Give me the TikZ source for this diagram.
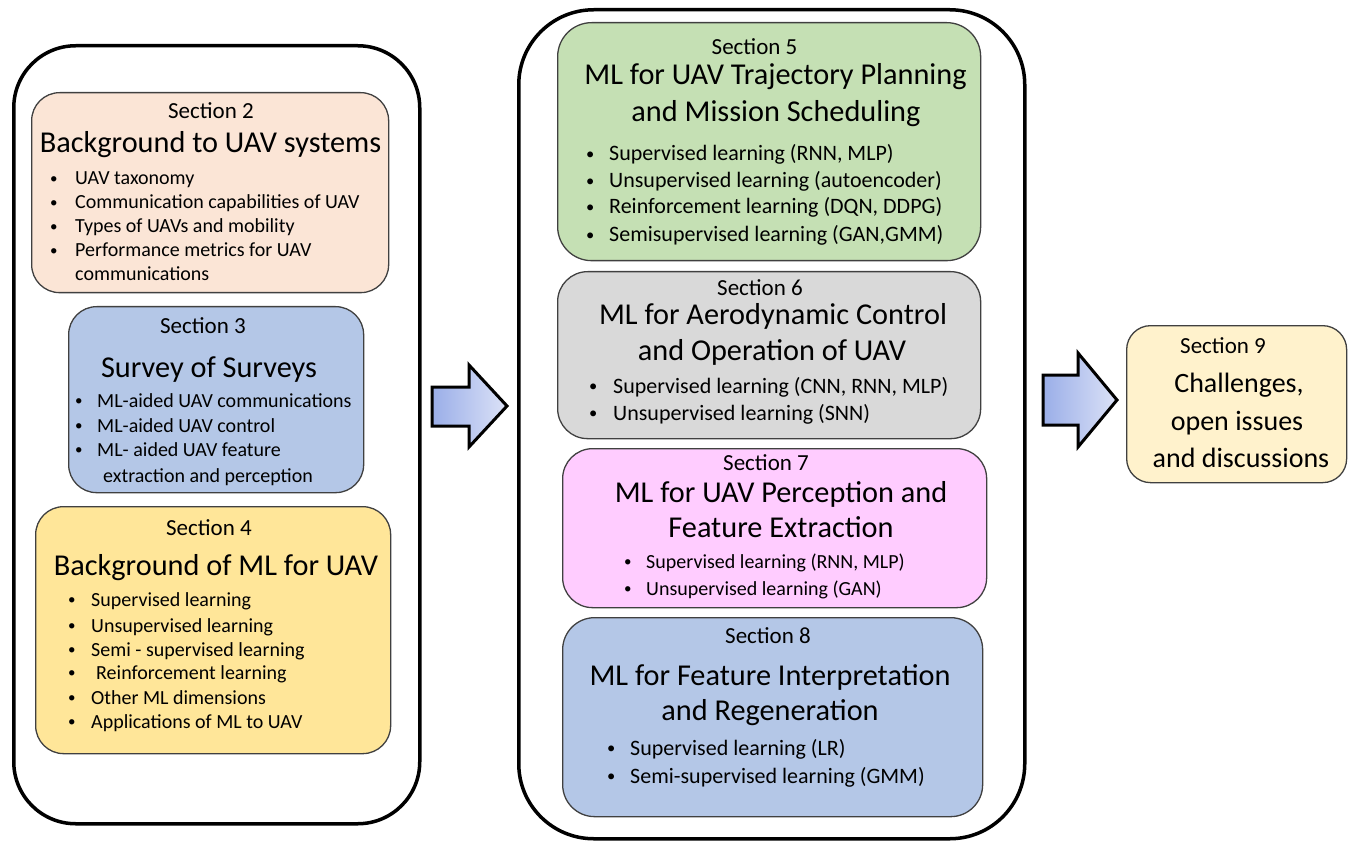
\documentclass[tikz,border=0pt]{standalone}
\usepackage{fontspec}
\setmainfont{Carlito}
\definecolor{cpeach}{HTML}{FBE5D6}
\definecolor{cblue}{HTML}{B4C7E7}
\definecolor{cyel}{HTML}{FFE699}
\definecolor{cgreen}{HTML}{C5E0B4}
\definecolor{cgray}{HTML}{D9D9D9}
\definecolor{cpink}{HTML}{FFCCFF}
\definecolor{clyel}{HTML}{FFF2CC}
\definecolor{boxline}{HTML}{404040}
\definecolor{arrL}{HTML}{9AAEE8}
\definecolor{arrR}{HTML}{DCE2F7}
\newcommand\bitem[2]{\makebox[#1pt][l]{\raisebox{0.06em}{\scalebox{0.75}{\textbullet}}}#2}
\begin{document}
\begin{tikzpicture}[x=1pt,y=-1pt,
  frame/.style={draw=black, line width=3.5pt, inner sep=0, anchor=north west},
  secbox/.style={draw=boxline, line width=1.3pt, rounded corners=28pt, inner sep=0, anchor=north west},
  hd/.style={font=\fontsize{23}{27}\selectfont, anchor=base, inner sep=0},
  tt/.style={font=\fontsize{30.3}{36}\selectfont, anchor=base, inner sep=0},
  tn/.style={font=\fontsize{28}{34}\selectfont, anchor=base, inner sep=0},
  bu/.style={font=\fontsize{20}{24}\selectfont, anchor=base west, inner sep=0},
  bub/.style={font=\fontsize{22}{26}\selectfont, anchor=base west, inner sep=0},
  blockarrow/.style={draw=black, line width=3pt, line join=miter, shading=axis, shading angle=120, left color=arrL, right color=arrR}
]
\useasboundingbox (0,0) rectangle (1349,842);

% outer frames
\node[frame, rounded corners=62pt, minimum width=406pt, minimum height=778pt] (leftframe) at (12,44) {};
\node[frame, rounded corners=75pt, minimum width=506pt, minimum height=829pt] (midframe) at (517,8) {};

% Section 2
\node[secbox, fill=cpeach, minimum width=357pt, minimum height=200pt] (s2) at (31,92) {};
\node[hd] (s2h) at (211,119) {Section 2};
\node[tt] (s2t) at (210.5,153) {Background to UAV systems};
\node[bu] (s2a) at (50,185) {\bitem{25}{UAV taxonomy}};
\node[bu] (s2b) at (50,209) {\bitem{25}{Communication capabilities of UAV}};
\node[bu] (s2c) at (50,233) {\bitem{25}{Types of UAVs and mobility}};
\node[bu] (s2d) at (50,257) {\bitem{25}{Performance metrics for UAV}};
\node[bu] (s2e) at (75,281) {communications};

% Section 3
\node[secbox, fill=cblue, minimum width=295pt, minimum height=186pt] (s3) at (68,306) {};
\node[hd] (s3h) at (203,333) {Section 3};
\node[tt] (s3t) at (209,377) {Survey of Surveys};
\node[bu] (s3a) at (75,407) {\bitem{22}{ML-aided UAV communications}};
\node[bu] (s3b) at (75,432) {\bitem{22}{ML-aided UAV control}};
\node[bu] (s3c) at (75,456) {\bitem{22}{ML- aided UAV feature}};
\node[bu] (s3d) at (103,482) {extraction and perception};

% Section 4
\node[secbox, fill=cyel, minimum width=355pt, minimum height=247pt] (s4) at (35,506) {};
\node[hd] (s4h) at (209,535) {Section 4};
\node[tt] (s4t) at (216,575) {Background of ML for UAV};
\node[bu] (s4a) at (68,606) {\bitem{23}{Supervised learning}};
\node[bu] (s4b) at (68,632) {\bitem{23}{Unsupervised learning}};
\node[bu] (s4c) at (68,656) {\bitem{23}{Semi - supervised learning}};
\node[bu] (s4d) at (68,679) {\bitem{28}{Reinforcement learning}};
\node[bu] (s4e) at (68,704) {\bitem{23}{Other ML dimensions}};
\node[bu] (s4f) at (68,728) {\bitem{23}{Applications of ML to UAV}};

% Section 5
\node[secbox, fill=cgreen, rounded corners=34pt, minimum width=423pt, minimum height=238pt] (s5) at (557,22) {};
\node[hd] (s5h) at (754.5,55) {Section 5};
\node[tt] (s5t1) at (775.5,85) {ML for UAV Trajectory Planning};
\node[tt] (s5t2) at (776,122) {and Mission Scheduling};
\node[bub] (s5a) at (586,161) {\bitem{23}{Supervised learning (RNN, MLP)}};
\node[bub] (s5b) at (586,188) {\bitem{23}{Unsupervised learning (autoencoder)}};
\node[bub] (s5c) at (586,214) {\bitem{23}{Reinforcement learning (DQN, DDPG)}};
\node[bub] (s5d) at (586,242) {\bitem{23}{Semisupervised learning (GAN,GMM)}};

% Section 6
\node[secbox, fill=cgray, rounded corners=30pt, minimum width=423pt, minimum height=167pt] (s6) at (557,271) {};
\node[hd] (s6h) at (760,295) {Section 6};
\node[tt] (s6t1) at (773,324) {ML for Aerodynamic Control};
\node[tt] (s6t2) at (772,360) {and Operation of UAV};
\node[bub] (s6a) at (589,393) {\bitem{24}{Supervised learning (CNN, RNN, MLP)}};
\node[bub] (s6b) at (589,420) {\bitem{24}{Unsupervised learning (SNN)}};

% Section 7
\node[secbox, fill=cpink, rounded corners=30pt, minimum width=424pt, minimum height=159pt] (s7) at (562,448) {};
\node[hd] (s7h) at (766,470) {Section 7};
\node[tt] (s7t1) at (781,502) {ML for UAV Perception and};
\node[tt] (s7t2) at (781,537) {Feature Extraction};
\node[bu] (s7a) at (624,568) {\bitem{22}{Supervised learning (RNN, MLP)}};
\node[bu] (s7b) at (624,595) {\bitem{22}{Unsupervised learning (GAN)}};

% Section 8
\node[secbox, fill=cblue, rounded corners=32pt, minimum width=420pt, minimum height=199pt] (s8) at (562,617) {};
\node[hd] (s8h) at (768,643) {Section 8};
\node[tt] (s8t1) at (770,685) {ML for Feature Interpretation};
\node[tt] (s8t2) at (770,720) {and Regeneration};
\node[bub] (s8a) at (607,755) {\bitem{23}{Supervised learning (LR)}};
\node[bub] (s8b) at (607,783) {\bitem{23}{Semi-supervised learning (GMM)}};

% Section 9
\node[secbox, fill=clyel, rounded corners=24pt, minimum width=220pt, minimum height=157pt] (s9) at (1126,325) {};
\node[hd] (s9h) at (1223,353) {Section 9};
\node[tn] (s9a) at (1239,392) {Challenges,};
\node[tn] (s9b) at (1237,430) {open issues};
\node[tn] (s9c) at (1241,467) {and discussions};

% block arrows
\draw[blockarrow] (432,387) -- (469,387) -- (469,365) -- (507,406) -- (469,447) -- (469,426) -- (432,426) -- cycle;
\draw[blockarrow] (1043,375) -- (1078,375) -- (1078,353) -- (1117,400) -- (1078,447) -- (1078,425) -- (1043,425) -- cycle;
\end{tikzpicture}
\end{document}
